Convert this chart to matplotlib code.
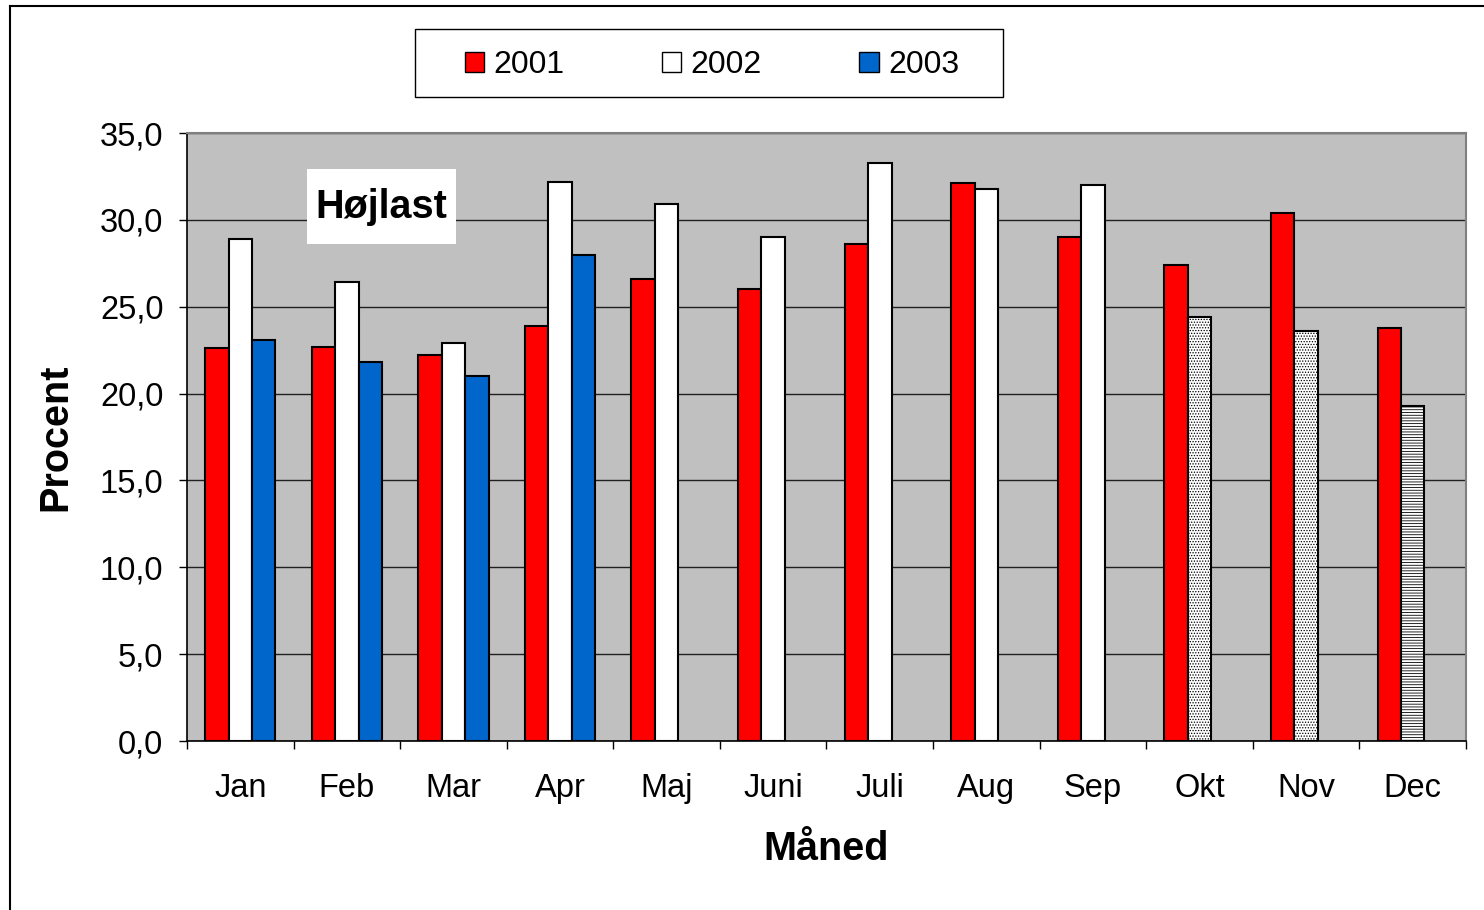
import numpy as np
import matplotlib
matplotlib.use('Agg')
import matplotlib.pyplot as plt
from matplotlib.patches import Rectangle, Patch
from matplotlib.lines import Line2D
from matplotlib.ticker import FuncFormatter, FixedLocator

plt.rcParams['font.family'] = ['Liberation Sans', 'DejaVu Sans']
plt.rcParams['hatch.linewidth'] = 0.6

# data (Højlast, procent per måned)
months = ['Jan', 'Feb', 'Mar', 'Apr', 'Maj', 'Juni', 'Juli', 'Aug', 'Sep', 'Okt', 'Nov', 'Dec']
v2001 = [22.6, 22.7, 22.2, 23.9, 26.6, 26.0, 28.6, 32.1, 29.0, 27.4, 30.4, 23.8]
v2002 = [28.9, 26.4, 22.9, 32.2, 30.9, 29.0, 33.3, 31.8, 32.0, 24.4, 23.6, 19.3]
v2003 = [23.1, 21.8, 21.0, 28.0]
# 2002 months drawn with a pattern fill instead of plain white
patterned = ['Okt', 'Nov', 'Dec']
years = ['2001', '2002', '2003']

W, H = 1484, 910
fig = plt.figure(figsize=(W / 100, H / 100), dpi=100)
ax = fig.add_axes([187 / W, 1 - 741 / H, (1466 - 187) / W, (741 - 133) / H])
ax.set_facecolor('#C0C0C0')

x = np.arange(len(months))
bw = 0.22
ax.bar(x - bw, v2001, bw, color='#FF0000', edgecolor='black', linewidth=1.5, zorder=3)
b02 = ax.bar(x, v2002, bw, color='white', edgecolor='black', linewidth=1.5, zorder=3)
ax.bar(x[:len(v2003)] + bw, v2003, bw, color='#0066CC', edgecolor='black', linewidth=1.5, zorder=3)
hatches = {'Okt': '......', 'Nov': '......', 'Dec': '------'}
for m in patterned:
    b02[months.index(m)].set_hatch(hatches[m])

ax.set_xlim(-0.5, len(months) - 0.5)
ax.set_ylim(0, 35)
ax.set_yticks(np.arange(0, 36, 5))
ax.yaxis.set_major_formatter(FuncFormatter(lambda v, p: f'{v:.1f}'.replace('.', ',')))
ax.xaxis.set_major_locator(FixedLocator(np.arange(-0.5, len(months), 1.0)))
ax.xaxis.set_major_formatter(FuncFormatter(lambda v, p: ''))
ax.xaxis.set_minor_locator(FixedLocator(x))
ax.set_xticklabels(months, minor=True)
ax.tick_params(axis='x', which='major', direction='out', length=6, width=1, color='black')
ax.tick_params(axis='x', which='minor', length=0, pad=23, labelsize=23.5)
ax.tick_params(axis='y', direction='out', length=6, width=1, pad=11, labelsize=23.5)

ax.grid(axis='y', color='#202020', linewidth=1, zorder=0)
ax.set_axisbelow(True)
for s in ['left', 'bottom']:
    ax.spines[s].set_color('black')
    ax.spines[s].set_linewidth(1.2)
for s in ['top', 'right']:
    ax.spines[s].set_color('#808080')
    ax.spines[s].set_linewidth(1.5)

ax.set_xlabel('Måned', fontsize=28.5, fontweight='bold', va='center')
ax.xaxis.set_label_coords(0.5, -0.178)
ax.set_ylabel('Procent', fontsize=28.5, fontweight='bold', va='center')
ax.yaxis.set_label_coords(-0.103, 0.5)

# white label box
ax.add_patch(Rectangle((0.0938, 0.818), 0.1165, 0.123, transform=ax.transAxes,
                       fc='white', ec='none', zorder=5))
ax.text(0.152, 0.878, 'Højlast', transform=ax.transAxes, fontsize=28.5, fontweight='bold',
        ha='center', va='center', zorder=6)

# legend
handles = [Patch(fc='#FF0000', ec='black', lw=1), Patch(fc='white', ec='black', lw=1),
           Patch(fc='#0066CC', ec='black', lw=1)]
fig.patches.append(Rectangle((415 / W, 1 - 97 / H), 588 / W, 68 / H, transform=fig.transFigure,
                             fill=False, ec='black', lw=1))
fig.legend(handles, years, loc='center', bbox_to_anchor=((415 + 1003) / 2 / W + 0.002, 1 - 65 / H),
           ncol=3, frameon=False, fontsize=23, handlelength=0.6, handleheight=0.6,
           handletextpad=0.3, columnspacing=3.05)

# outer chart border (left and top only visible)
fig.lines.append(Line2D([10 / W, 10 / W], [0, 1 - 6 / H], transform=fig.transFigure, color='black', lw=1.5))
fig.lines.append(Line2D([10 / W, 1], [1 - 6 / H, 1 - 6 / H], transform=fig.transFigure, color='black', lw=1.5))

fig.savefig('out.png', dpi=100)
